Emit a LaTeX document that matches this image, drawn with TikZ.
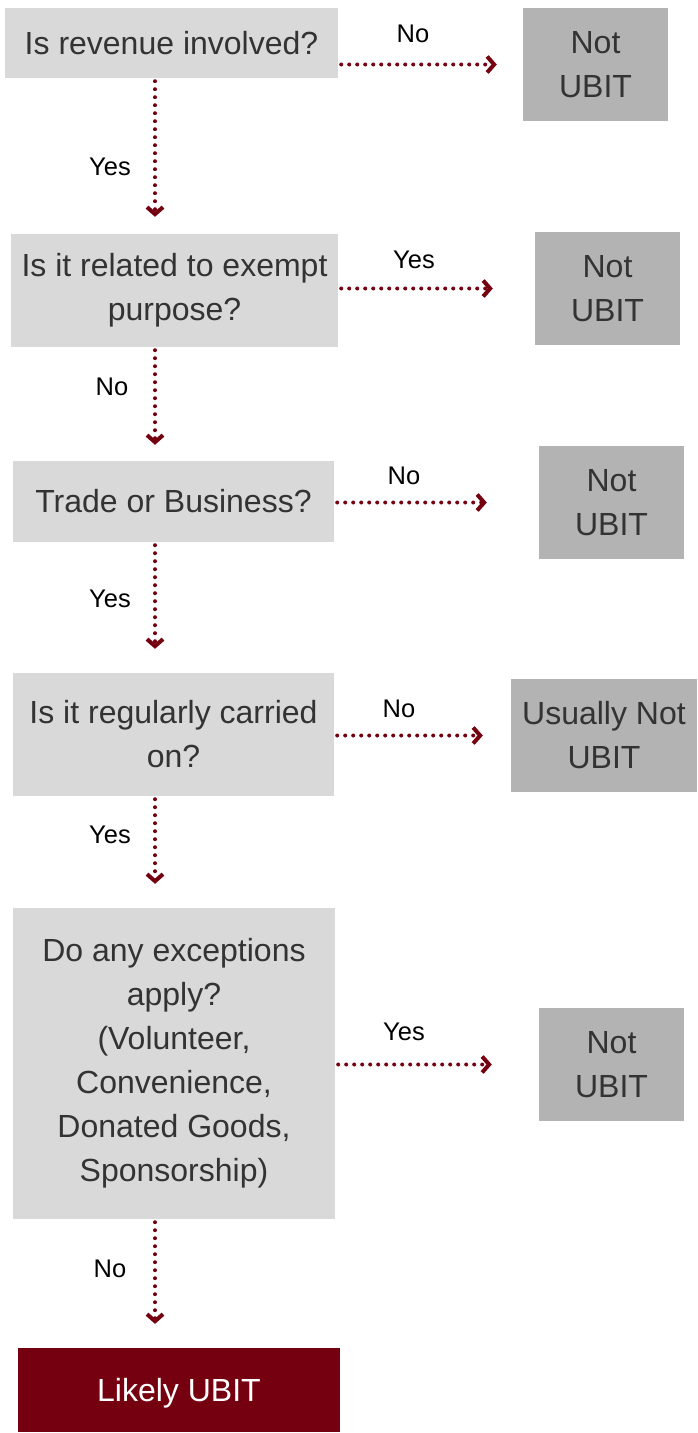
\documentclass[tikz,border=0pt]{standalone}
\usepackage{fontspec}
\setmainfont{Liberation Sans}
\usetikzlibrary{arrows.meta}
\definecolor{maroon}{HTML}{75000F}
\definecolor{qgray}{HTML}{D9D9D9}
\definecolor{ngray}{HTML}{B3B3B3}
\definecolor{boxtext}{HTML}{333333}
\tikzset{
  question/.style={fill=qgray, text=boxtext, align=center, inner sep=0pt, font=\fontsize{32}{44}\selectfont},
  answer/.style={fill=ngray, text=boxtext, align=center, inner sep=0pt, minimum width=145pt, minimum height=113pt, font=\fontsize{32}{44}\selectfont},
  flow/.style={maroon, line width=4pt, dash pattern=on 0pt off 8pt, line cap=round, shorten <=3pt,
    -{Straight Barb[length=7pt,width=16pt,line width=4pt]}},
  lbl/.style={font=\fontsize{25.5}{30}\selectfont}
}

\begin{document}
\begin{tikzpicture}[x=1pt,y=-1pt]
\useasboundingbox (0,0) rectangle (697,1433);
\coordinate (spine) at (155,0);
% questions
\node[question, minimum width=333pt, minimum height=70pt] (q1) at (171.5,43) {Is revenue involved?};
\node[question, minimum width=327pt, minimum height=113pt] (q2) at (174.5,290.5) {Is it related to exempt\\purpose?};
\node[question, minimum width=321pt, minimum height=81pt] (q3) at (173.5,501.5) {Trade or Business?};
\node[question, minimum width=321pt, minimum height=123pt] (q4) at (173.5,734.5) {Is it regularly carried\\on?};
\node[question, minimum width=322pt, minimum height=311pt] (q5) at (174,1063.5) {Do any exceptions\\apply?\\(Volunteer,\\Convenience,\\Donated Goods,\\Sponsorship)};
\node[fill=maroon, text=white, inner sep=0pt, text depth=0pt, minimum width=322pt, minimum height=84pt, font=\fontsize{32}{44}\selectfont] (ubit) at (179,1390) {Likely UBIT};
% answers
\node[answer] (n1) at (595.5,64.5) {Not\\UBIT};
\node[answer] (n2) at (607.5,288.5) {Not\\UBIT};
\node[answer] (n3) at (611.5,502.5) {Not\\UBIT};
\node[answer, minimum width=186pt] (n4) at (604,735.5) {Usually Not\\UBIT};
\node[answer] (n5) at (611.5,1064.5) {Not\\UBIT};
% down the left
\draw[flow, shorten >=17pt] (q1.south -| spine) -- (q2.north -| spine);
\draw[flow, shorten >=16pt] (q2.south -| spine) -- (q3.north -| spine);
\draw[flow, shorten >=24pt] (q3.south -| spine) -- (q4.north -| spine);
\draw[flow, shorten >=24pt] (q4.south -| spine) -- (q5.north -| spine);
\draw[flow, shorten >=24pt] (q5.south -| spine) -- (ubit.north -| spine);
% across to the right
\draw[flow, shorten >=26pt] (n1.west -| q1.east) -- (n1.west);
\draw[flow, shorten >=42pt] (n2.west -| q2.east) -- (n2.west);
\draw[flow, shorten >=52pt] (n3.west -| q3.east) -- (n3.west);
\draw[flow, shorten >=28pt] (n4.west -| q4.east) -- (n4.west);
\draw[flow, shorten >=47pt] (n5.west -| q5.east) -- (n5.west);
% labels
\node[lbl] (l1) at (110,167) {Yes};
\node[lbl] (l2) at (112,387) {No};
\node[lbl] (l3) at (110,599) {Yes};
\node[lbl] (l4) at (110,835) {Yes};
\node[lbl] (l5) at (110,1269) {No};
\node[lbl] (r1) at (413,34) {No};
\node[lbl] (r2) at (414,260) {Yes};
\node[lbl] (r3) at (404,476) {No};
\node[lbl] (r4) at (399,709) {No};
\node[lbl] (r5) at (404,1032) {Yes};
\end{tikzpicture}
\end{document}
